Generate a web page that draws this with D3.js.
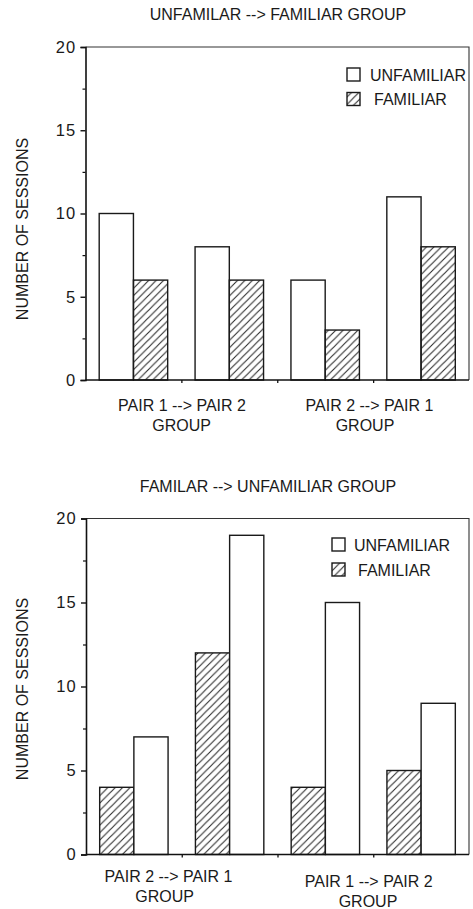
<!DOCTYPE html>
<html>
<head>
<meta charset="utf-8">
<script src="https://cdn.jsdelivr.net/npm/d3@7"></script>
<style>
  html, body { margin: 0; padding: 0; background: #fff; }
  svg { display: block; }
  text { font-family: "Liberation Sans", Arial, Helvetica, sans-serif; fill: #1a1a1a; }
</style>
</head>
<body>
<svg id="chart" width="473" height="909"></svg>
<script>
// ---- data ----
const categories = ["A", "B", "C", "D"];           // four bar pairs per panel
const seriesNames = ["UNFAMILIAR", "FAMILIAR"];
const topTitle = "UNFAMILAR --> FAMILIAR GROUP";
const bottomTitle = "FAMILAR --> UNFAMILIAR GROUP";
const topGroupLabels = ["PAIR 1 --> PAIR 2", "PAIR 2 --> PAIR 1"];
const bottomGroupLabels = ["PAIR 2 --> PAIR 1", "PAIR 1 --> PAIR 2"];
const topUnfamiliar = [10, 8, 6, 11];
const topFamiliar = [6, 6, 3, 8];
const bottomFamiliar = [4, 12, 4, 5];
const bottomUnfamiliar = [7, 19, 15, 9];
const yTicks = [0, 5, 10, 15, 20];
const yMinorTicks = [2.5, 7.5, 12.5, 17.5];
const yLabel = "NUMBER OF SESSIONS";

// ---- drawing ----
const svg = d3.select("#chart");
const defs = svg.append("defs");
const pat = defs.append("pattern")
  .attr("id", "hatch").attr("patternUnits", "userSpaceOnUse")
  .attr("width", 7.4).attr("height", 7.4);
pat.append("path")
  .attr("d", "M-1,1 L1,-1 M0,7.4 L7.4,0 M6.4,8.4 L8.4,6.4")
  .attr("stroke", "#2a2a2a").attr("stroke-width", 1.1);

const FS = 16;

const panels = [
  {
    title: topTitle, titleY: 20, titleX: 278,
    x0: 85.5, x1: 469, yTop: 47, yZero: 380,
    series: [
      { name: "UNFAMILIAR", values: topUnfamiliar, hatch: false },
      { name: "FAMILIAR", values: topFamiliar, hatch: true }
    ],
    groups: topGroupLabels,
    groupLabelPos: [[182, 410.5, 181.7, 430.5], [369.5, 410.5, 365, 430.5]],
    legendX: 347, legendY: [68, 92.5], legendTextX: [370, 374],
    labelY: 229
  },
  {
    title: bottomTitle, titleY: 492, titleX: 268,
    x0: 86, x1: 469, yTop: 518.5, yZero: 854.5,
    series: [
      { name: "FAMILIAR", values: bottomFamiliar, hatch: true },
      { name: "UNFAMILIAR", values: bottomUnfamiliar, hatch: false }
    ],
    groups: bottomGroupLabels,
    groupLabelPos: [[168.5, 882, 164.7, 902], [368.7, 887, 368, 907]],
    legendX: 332, legendY: [538, 563], legendTextX: [354, 358],
    labelY: 689
  }
];

panels.forEach(p => {
  const g = svg.append("g");
  const y = d3.scaleLinear().domain([0, 20]).range([p.yZero, p.yTop]);
  const x = d3.scaleBand().domain(categories).range([p.x0, p.x1]).paddingInner(0).paddingOuter(0);
  const xs = d3.scaleBand().domain([0, 1]).range([0, x.bandwidth()]).paddingInner(0).paddingOuter(0.4);

  // title
  g.append("text").attr("x", p.titleX).attr("y", p.titleY)
    .attr("text-anchor", "middle").attr("font-size", FS).text(p.title);

  // bars
  p.series.forEach((s, si) => {
    g.selectAll(null).data(s.values).enter().append("rect")
      .attr("x", (d, i) => x(categories[i]) + xs(si))
      .attr("y", d => y(d))
      .attr("width", xs.bandwidth())
      .attr("height", d => y(0) - y(d))
      .attr("fill", s.hatch ? "url(#hatch)" : "#fff")
      .attr("stroke", "#1a1a1a").attr("stroke-width", 1.4);
  });

  // frame (top and right)
  g.append("path")
    .attr("d", `M${p.x0},${p.yTop} H${p.x1} V${p.yZero}`)
    .attr("fill", "none").attr("stroke", "#333").attr("stroke-width", 1.1);

  // y axis
  const yAxis = d3.axisLeft(y).tickValues(yTicks).tickSize(5).tickPadding(4).tickFormat(d3.format("d"));
  const ya = g.append("g").attr("transform", `translate(${p.x0},0)`).call(yAxis);
  ya.select(".domain").attr("stroke", "#111").attr("stroke-width", 1.6);
  ya.selectAll(".tick line").attr("stroke", "#111").attr("stroke-width", 1.4);
  ya.selectAll(".tick text").attr("font-size", 16.5).attr("letter-spacing", 1.2)
    .attr("font-family", "Liberation Sans, Arial, sans-serif").attr("fill", "#1a1a1a");
  const yMinor = d3.axisLeft(y).tickValues(yMinorTicks).tickSize(3).tickFormat("");
  const ym = g.append("g").attr("transform", `translate(${p.x0},0)`).call(yMinor);
  ym.select(".domain").remove();
  ym.selectAll(".tick line").attr("stroke", "#111").attr("stroke-width", 1.2);

  // x axis
  const bounds = categories.slice(1).map(c => x(c));
  const xScaleLin = d3.scaleLinear().domain([p.x0, p.x1]).range([p.x0, p.x1]);
  const xAxis = d3.axisBottom(xScaleLin).tickValues(bounds).tickSize(3).tickFormat("");
  const xa = g.append("g").attr("transform", `translate(0,${p.yZero})`).call(xAxis);
  xa.select(".domain").attr("stroke", "#111").attr("stroke-width", 1.6).attr("d", `M${p.x0},0H${p.x1}`);
  xa.selectAll(".tick line").attr("stroke", "#111").attr("stroke-width", 1.3);

  // group labels
  p.groups.forEach((lab, gi) => {
    const pos = p.groupLabelPos[gi];
    g.append("text").attr("x", pos[0]).attr("y", pos[1]).attr("text-anchor", "middle")
      .attr("font-size", FS).text(lab);
    g.append("text").attr("x", pos[2]).attr("y", pos[3]).attr("text-anchor", "middle")
      .attr("font-size", FS).text("GROUP");
  });

  // y label
  g.append("text").attr("transform", `translate(27.5,${p.labelY}) rotate(-90)`)
    .attr("text-anchor", "middle").attr("font-size", FS)
    .text(yLabel);

  // legend
  seriesNames.forEach((name, li) => {
    const hatch = name === "FAMILIAR";
    g.append("rect").attr("x", p.legendX).attr("y", p.legendY[li])
      .attr("width", 13).attr("height", 13)
      .attr("fill", hatch ? "url(#hatch)" : "#fff")
      .attr("stroke", "#1a1a1a").attr("stroke-width", 1.4);
    g.append("text").attr("x", p.legendTextX[li]).attr("y", p.legendY[li] + 12.5)
      .attr("font-size", FS).text(name);
  });
});
</script>
</body>
</html>
